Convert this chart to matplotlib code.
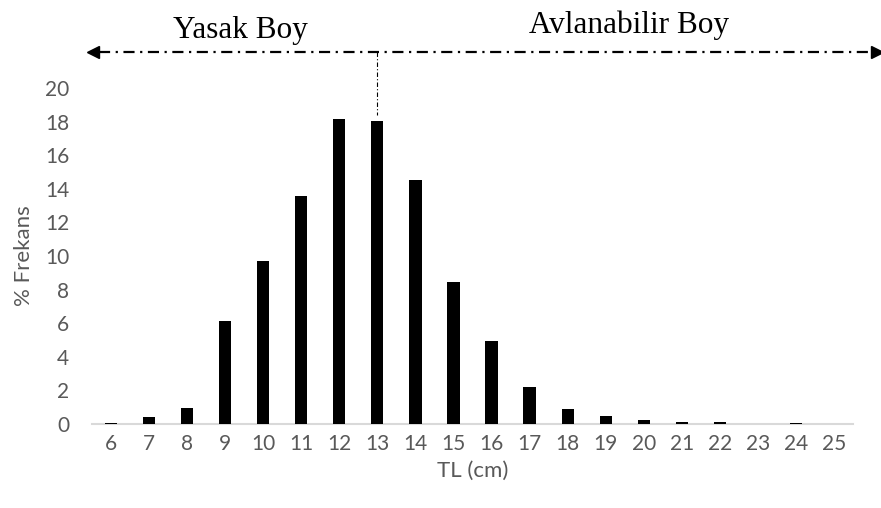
import matplotlib.pyplot as plt

# Boy sınıfları (cm) ve yüzde frekanslar
boy_siniflari = [6, 7, 8, 9, 10, 11, 12, 13, 14, 15, 16, 17, 18, 19, 20, 21, 22, 23, 24, 25]
frekans = [0.03, 0.43, 0.98, 6.12, 9.73, 13.6, 18.17, 18.03, 14.55, 8.48,
           4.97, 2.19, 0.9, 0.5, 0.25, 0.14, 0.11, 0.0, 0.03, 0.02]
y_ticks = [0, 2, 4, 6, 8, 10, 12, 14, 16, 18, 20]
yasak_sinir = 13  # avlanabilir boy siniri

GRI = '#595959'

fig = plt.figure(figsize=(8.81, 5.08), dpi=100)
ax = fig.add_axes([92 / 881, 1 - 424 / 508, 761 / 881, 336 / 508])

x = list(range(len(boy_siniflari)))
ax.bar(x, frekans, width=0.32, color='black', zorder=3)

ax.set_xlim(-0.5, len(boy_siniflari) - 0.5)
ax.set_ylim(0, 20)
ax.set_xticks(x)
ax.set_xticklabels([str(b) for b in boy_siniflari])
ax.set_yticks(y_ticks)
ax.tick_params(axis='both', length=0, labelsize=15, colors=GRI, labelfontfamily='Lato')
ax.tick_params(axis='x', pad=7)
ax.tick_params(axis='y', pad=16.5)

for s in ['top', 'right', 'left']:
    ax.spines[s].set_visible(False)
ax.spines['bottom'].set_color('#d9d9d9')
ax.spines['bottom'].set_linewidth(1.5)

ax.set_xlabel('TL (cm)', fontsize=16, color=GRI, family='Lato', labelpad=5)
ax.set_ylabel('% Frekans', fontsize=16, color=GRI, family='Lato', labelpad=8)

# Yasak / avlanabilir boy oklari
y_ok = 22.16
x_sol, x_sag = -0.47, 20.12
ax.plot([x_sol + 0.15, x_sag - 0.15], [y_ok, y_ok], color='black', lw=1.6,
        dashes=(5, 2.5, 1, 2.5), clip_on=False)
ax.plot([x_sol], [y_ok], marker='<', ms=8, color='black', clip_on=False)
ax.plot([x_sag], [y_ok], marker='>', ms=8, color='black', clip_on=False)

xs = boy_siniflari.index(yasak_sinir)
ax.plot([xs, xs], [y_ok, frekans[xs] + 0.35], color='black', lw=0.8,
        dashes=(4, 2, 1, 2), clip_on=False)

ax.text(3.39, 23.0, 'Yasak Boy', fontsize=22.5, family='Liberation Serif',
        ha='center', va='baseline', clip_on=False)
ax.text(13.61, 23.3, 'Avlanabilir Boy', fontsize=22.5, family='Liberation Serif',
        ha='center', va='baseline', clip_on=False)

fig.savefig('out.png', dpi=100)
